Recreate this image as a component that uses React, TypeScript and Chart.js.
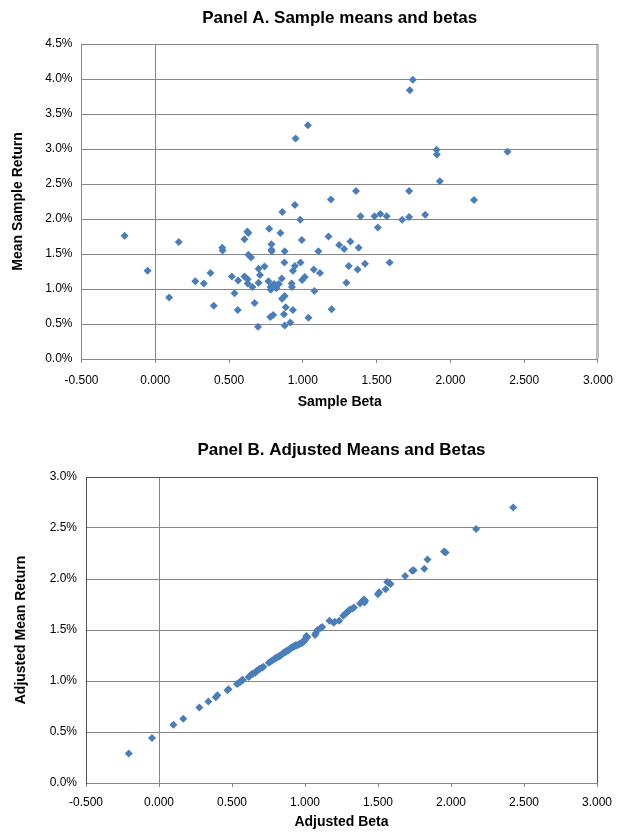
import React, { useEffect, useRef } from 'react';
import { Chart, registerables } from 'chart.js';

Chart.register(...registerables);

// ---------- Data ----------
const sampleBeta = [
  -0.208, -0.052, 0.094, 0.159, 0.271, 0.329, 0.374, 0.396, 0.454, 0.456,
  0.519, 0.537, 0.559, 0.562, 0.604, 0.604, 0.624, 0.631, 0.631, 0.649,
  0.626, 0.626, 0.658, 0.673, 0.696, 0.700, 0.709, 0.700, 0.740, 0.767,
  0.772, 0.787, 0.787, 0.789, 0.781, 0.783, 0.805, 0.823, 0.837, 0.821,
  0.799, 0.779, 0.848, 0.857, 0.861, 0.877, 0.875, 0.877, 0.859, 0.884,
  0.872, 0.915, 0.877, 0.924, 0.926, 0.933, 0.933, 0.946, 0.946, 0.951,
  0.982, 0.993, 0.984, 0.995, 1.013, 1.034, 1.038, 1.074, 1.078, 1.105,
  1.116, 1.174, 1.190, 1.195, 1.246, 1.280, 1.295, 1.311, 1.322, 1.371,
  1.378, 1.360, 1.391, 1.421, 1.485, 1.508, 1.525, 1.568, 1.588, 1.673,
  1.720, 1.720, 1.725, 1.745, 1.829, 1.906, 1.908, 1.928, 2.160, 2.387,
];
const sampleMean = [
  1.76, 1.26, 0.88, 1.67, 1.11, 1.08, 1.23, 0.76, 1.59, 1.55,
  1.18, 0.94, 0.70, 1.12, 1.71, 1.18, 1.82, 1.80, 1.49, 1.45,
  1.14, 1.08, 1.03, 0.80, 0.46, 1.29, 1.20, 1.09, 1.32, 1.11,
  1.86, 1.64, 1.56, 1.54, 1.03, 0.99, 1.07, 1.05, 1.07, 1.01,
  0.63, 0.60, 1.80, 1.15, 2.10, 1.54, 1.38, 0.90, 0.86, 0.74,
  0.64, 0.52, 0.48, 1.08, 1.03, 1.26, 0.70, 1.33, 2.20, 3.15,
  1.99, 1.70, 1.38, 1.13, 1.17, 3.34, 0.59, 1.28, 0.97, 1.54,
  1.23, 1.75, 2.28, 0.71, 1.63, 1.57, 1.09, 1.33, 1.68, 1.28,
  1.59, 2.40, 2.04, 1.36, 2.04, 1.88, 2.07, 2.04, 1.38, 1.99,
  2.03, 2.40, 3.84, 3.99, 2.06, 2.99, 2.92, 2.54, 2.27, 2.96,
];

const adjBeta = [
  -0.207, -0.048, 0.099, 0.166, 0.276, 0.338, 0.389, 0.400, 0.469, 0.476,
  0.534, 0.545, 0.557, 0.568, 0.575, 0.614, 0.622, 0.637, 0.645, 0.660,
  0.668, 0.683, 0.690, 0.706, 0.715, 0.752, 0.765, 0.775, 0.786, 0.795,
  0.800, 0.810, 0.818, 0.826, 0.832, 0.840, 0.848, 0.855, 0.862, 0.868,
  0.870, 0.879, 0.885, 0.893, 0.897, 0.901, 0.910, 0.918, 0.924, 0.930,
  0.935, 0.940, 0.948, 0.959, 0.965, 0.972, 0.978, 0.985, 0.993, 0.998,
  1.002, 1.005, 1.010, 1.016, 1.069, 1.074, 1.086, 1.108, 1.118, 1.168,
  1.196, 1.204, 1.234, 1.262, 1.276, 1.292, 1.300, 1.310, 1.327, 1.335,
  1.377, 1.391, 1.403, 1.407, 1.412, 1.499, 1.508, 1.552, 1.563, 1.575,
  1.586, 1.686, 1.734, 1.745, 1.817, 1.839, 1.952, 1.963, 2.172, 2.426,
];
const adjMean = [
  0.29, 0.44, 0.57, 0.63, 0.74, 0.80, 0.84, 0.86, 0.91, 0.92,
  0.97, 0.98, 0.99, 1.01, 1.01, 1.04, 1.05, 1.07, 1.07, 1.08,
  1.10, 1.11, 1.12, 1.13, 1.14, 1.18, 1.19, 1.20, 1.21, 1.22,
  1.225, 1.23, 1.24, 1.245, 1.25, 1.26, 1.27, 1.28, 1.28, 1.29,
  1.29, 1.30, 1.30, 1.31, 1.315, 1.32, 1.33, 1.33, 1.34, 1.34,
  1.35, 1.35, 1.35, 1.36, 1.365, 1.37, 1.375, 1.38, 1.39, 1.40,
  1.41, 1.42, 1.44, 1.43, 1.45, 1.47, 1.50, 1.52, 1.53, 1.59,
  1.57, 1.58, 1.59, 1.64, 1.66, 1.68, 1.69, 1.70, 1.71, 1.72,
  1.76, 1.78, 1.80, 1.77, 1.79, 1.85, 1.87, 1.90, 1.97, 1.96,
  1.95, 2.03, 2.08, 2.085, 2.10, 2.19, 2.27, 2.26, 2.49, 2.70,
];

const xTickMin = -0.5;
const xTickMax = 3.0;
const xTickStep = 0.5;
const yStep = 0.5;
const yMaxA = 4.5;
const yMaxB = 3.0;

const titleA = 'Panel A. Sample means and betas';
const titleB = 'Panel B. Adjusted Means and Betas';
const xTitleA = 'Sample Beta';
const yTitleA = 'Mean Sample Return';
const xTitleB = 'Adjusted Beta';
const yTitleB = 'Adjusted Mean Return';

// ---------- Styling ----------
const FONT = "'Liberation Sans', Arial, sans-serif";
const BLUE = '#4A7EBB';
const GRID = '#868686';
const DARK = '#505050';
const CLEAR = 'rgba(0,0,0,0)';

type Panel = {
  xs: number[];
  ys: number[];
  title: string;
  xTitle: string;
  yTitle: string;
  yMax: number;
  titleTop: number;
  titleBottom: number;
  yWidth: number;
  yTitlePad: number;
  xHeight: number;
  xTickPad: number;
  padRight: number;
  padBottom: number;
  rightColor: string;
  rightWidth: number;
  topColor: string;
  leftColor: string;
};

function makeConfig(p: Panel): any {
  return {
    type: 'scatter',
    data: {
      datasets: [
        {
          data: p.xs.map((x, i) => ({ x, y: p.ys[i] })),
          pointStyle: 'rectRot',
          pointRadius: 4,
          pointHoverRadius: 4,
          pointBackgroundColor: BLUE,
          pointBorderWidth: 0,
          showLine: false,
        },
      ],
    },
    options: {
      responsive: false,
      animation: false,
      events: [],
      layout: { padding: { left: 0, right: p.padRight, top: 0, bottom: p.padBottom } },
      plugins: {
        legend: { display: false },
        tooltip: { enabled: false },
        title: {
          display: true,
          fullSize: false,
          align: 'center',
          text: p.title,
          color: '#000',
          font: { family: FONT, size: 17, weight: 'bold', lineHeight: 1.2 },
          padding: { top: p.titleTop, bottom: p.titleBottom },
        },
      },
      scales: {
        x: {
          type: 'linear',
          min: xTickMin,
          max: xTickMax,
          afterFit: (s: any) => {
            s.height = p.xHeight;
          },
          ticks: {
            stepSize: xTickStep,
            autoSkip: false,
            maxRotation: 0,
            padding: p.xTickPad,
            color: '#000',
            font: { family: FONT, size: 12, lineHeight: 1.2 },
            callback: (v: any) => Number(v).toFixed(3),
          },
          grid: {
            drawTicks: true,
            tickLength: 4,
            tickColor: GRID,
            tickWidth: 1,
            color: (c: any) => {
              const v = c.tick ? c.tick.value : null;
              if (v === 0) return GRID;
              if (v === xTickMax) return p.rightColor;
              return CLEAR;
            },
            lineWidth: (c: any) => {
              const v = c.tick ? c.tick.value : null;
              if (v === xTickMax) return p.rightWidth;
              return 1;
            },
          },
          border: { display: true, color: GRID, width: 1 },
          title: {
            display: true,
            text: p.xTitle,
            color: '#000',
            font: { family: FONT, size: 14, weight: 'bold', lineHeight: 1.2 },
            padding: { top: 0, bottom: 0 },
          },
        },
        y: {
          type: 'linear',
          min: 0,
          max: p.yMax,
          afterFit: (s: any) => {
            s.width = p.yWidth;
          },
          ticks: {
            stepSize: yStep,
            padding: 9,
            color: '#000',
            font: { family: FONT, size: 12, lineHeight: 1.2 },
            callback: (v: any) => Number(v).toFixed(1) + '%',
          },
          grid: {
            drawTicks: false,
            color: (c: any) => {
              const v = c.tick ? c.tick.value : null;
              if (v === p.yMax) return p.topColor;
              return GRID;
            },
            lineWidth: 1,
          },
          border: { display: true, color: p.leftColor, width: 1 },
          title: {
            display: true,
            text: p.yTitle,
            color: '#000',
            font: { family: FONT, size: 14, weight: 'bold', lineHeight: 1.2 },
            padding: { top: p.yTitlePad, bottom: 0 },
          },
        },
      },
    },
  };
}

const panelA: Panel = {
  xs: sampleBeta,
  ys: sampleMean,
  title: titleA,
  xTitle: xTitleA,
  yTitle: yTitleA,
  yMax: yMaxA,
  titleTop: 8.3,
  titleBottom: 15.3,
  yWidth: 81.5,
  yTitlePad: 10,
  xHeight: 51.4,
  xTickPad: 10,
  padRight: 20,
  padBottom: 9.6,
  rightColor: '#BFBFBF',
  rightWidth: 3,
  topColor: GRID,
  leftColor: GRID,
};

const panelB: Panel = {
  xs: adjBeta,
  ys: adjMean,
  title: titleB,
  xTitle: xTitleB,
  yTitle: yTitleB,
  yMax: yMaxB,
  titleTop: 19.8,
  titleBottom: 16.8,
  yWidth: 86,
  yTitlePad: 13,
  xHeight: 47.4,
  xTickPad: 8,
  padRight: 26,
  padBottom: 1.6,
  rightColor: DARK,
  rightWidth: 1,
  topColor: DARK,
  leftColor: DARK,
};

function ChartCanvas({ panel, height }: { panel: Panel; height: number }) {
  const ref = useRef<HTMLCanvasElement | null>(null);
  useEffect(() => {
    if (!ref.current) return;
    const chart = new Chart(ref.current, makeConfig(panel));
    return () => chart.destroy();
  }, [panel]);
  return (
    <canvas
      ref={ref}
      width={623}
      height={height}
      style={{ display: 'block', width: 623, height }}
    />
  );
}

export default function App() {
  return (
    <div
      style={{
        position: 'absolute',
        left: 0,
        top: 0,
        width: 623,
        height: 832,
        background: '#fff',
      }}
    >
      <ChartCanvas panel={panelA} height={420} />
      <ChartCanvas panel={panelB} height={412} />
    </div>
  );
}
